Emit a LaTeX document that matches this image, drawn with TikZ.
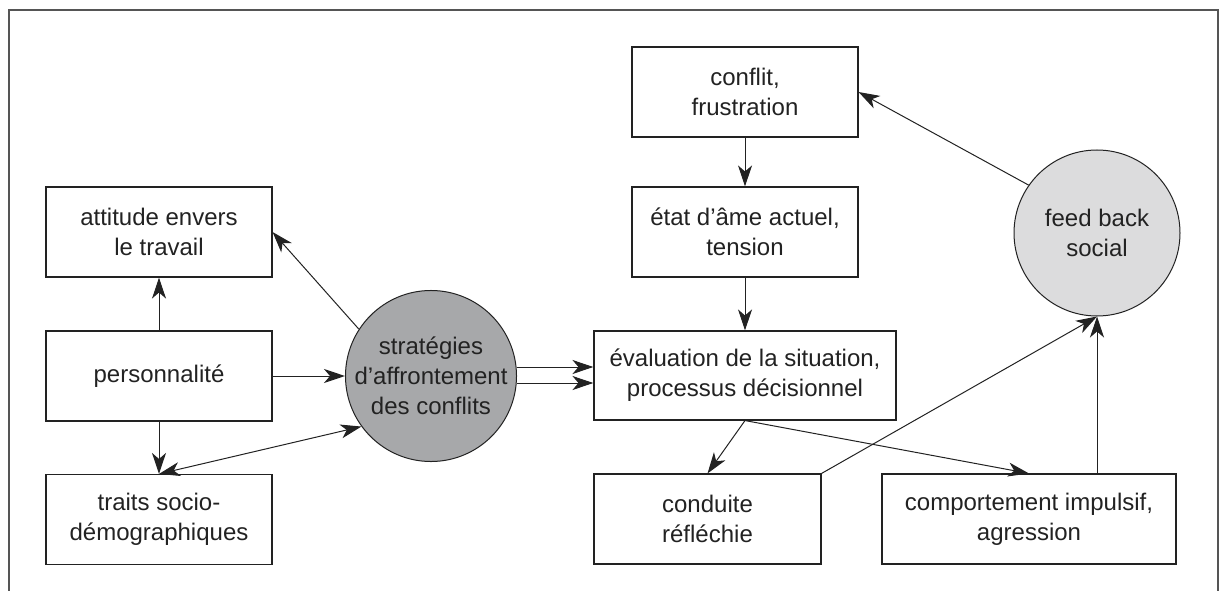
\documentclass[tikz,border=0pt]{standalone}
\usepackage{fontspec}
\setmainfont{Liberation Sans}
\usetikzlibrary{arrows.meta}
\definecolor{linec}{HTML}{222222}
\definecolor{textc}{HTML}{222222}
\definecolor{framec}{HTML}{555555}
\definecolor{darkfill}{HTML}{A7A8AA}
\definecolor{lightfill}{HTML}{DCDCDD}
\begin{document}
\begin{tikzpicture}[x=1pt,y=-1pt,
  font=\fontsize{24}{30}\selectfont,
  box/.style={draw=linec, line width=1.1pt, minimum width=226pt, minimum height=90pt, align=center, inner sep=0pt, text=textc},
  circ/.style={circle, draw=linec, line width=1pt, minimum size=166pt, align=center, inner sep=0pt, text=textc},
  arr/.style={draw=linec, line width=1pt, -{Stealth[length=21pt,width=14pt,inset=6pt]}},
  darr/.style={draw=linec, line width=1pt, {Stealth[length=21pt,width=14pt,inset=6pt]}-{Stealth[length=21pt,width=14pt,inset=6pt]}}]
\useasboundingbox (0,0) rectangle (1224,591);
\draw[framec, line width=1.2pt] (9,591) -- (9,10) -- (1218,10) -- (1218,591);

\node[box] (att) at (159,232) {attitude envers\\le travail};
\node[box] (pers) at (159,376) {personnalité};
\node[box] (traits) at (159,519.5) {traits socio-\\démographiques};
\node[circ, fill=darkfill] (strat) at (431,376) {stratégies\\d’affrontement\\des conflits};
\node[box, minimum width=302pt, minimum height=89pt] (eval) at (745,375.5) {évaluation de la situation,\\processus décisionnel};
\node[box, minimum width=227pt] (cond) at (707.5,519) {conduite\\réfléchie};
\node[box, minimum width=294pt] (comp) at (1029,519) {comportement impulsif,\\agression};
\node[box] (conflit) at (745,92) {conflit,\\frustration};
\node[box] (etat) at (745,232) {état d’âme actuel,\\tension};
\node[circ, fill=lightfill] (feed) at (1097,233) {feed back\\social};

\coordinate (ya) at (0,367);
\coordinate (yb) at (0,383);

\draw[arr] (pers.north) -- (att.south);
\draw[arr] (pers.south) -- (traits.north);
\draw[arr] (pers.east) -- (strat.west);
\draw[darr] (traits.north) -- (strat.216);
\draw[arr] (strat.147) -- (att.east);
\draw[arr] (strat.east |- ya) -- (eval.west |- ya);
\draw[arr] (strat.east |- yb) -- (eval.west |- yb);
\draw[arr] (conflit.south) -- (etat.north);
\draw[arr] (etat.south) -- (eval.north);
\draw[arr] (eval.south) -- (cond.north);
\draw[arr] (eval.south) -- (comp.north);
\draw[arr] (cond.north east) -- (feed.south);
\draw[arr] (comp.north -| feed.south) -- (feed.south);
\draw[arr] (feed.145) -- (conflit.east);
\end{tikzpicture}
\end{document}
